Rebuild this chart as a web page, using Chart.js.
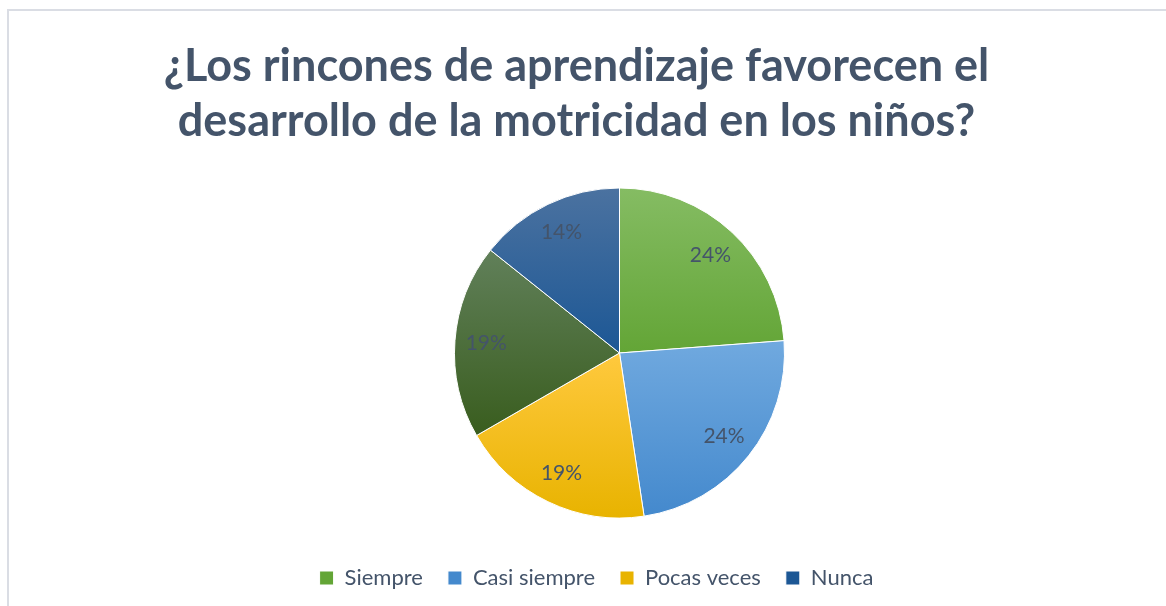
<!DOCTYPE html>
<html>
<head>
<meta charset="utf-8">
<script src="https://cdn.jsdelivr.net/npm/chart.js@4.4.1/dist/chart.umd.min.js"></script>
<style>
  html, body { margin: 0; padding: 0; background: #ffffff; }
  #wrap { position: relative; width: 1166px; height: 606px; overflow: hidden; }
  #frame { position: absolute; left: 7px; top: 9px; right: -10px; bottom: -10px;
           border-top: 2px solid #DADDE4; border-left: 2px solid #DADDE4; pointer-events: none; }
  canvas { display: block; }
</style>
</head>
<body>
<div id="wrap">
  <canvas id="c" width="1166" height="606"></canvas>
  <div id="frame"></div>
</div>
<script>
// ---- data ----
const titleLines = ["¿Los rincones de aprendizaje favorecen el", "desarrollo de la motricidad en los niños?"];
const categories = ["Siempre", "Casi siempre", "Pocas veces", "", "Nunca"];
const values = [5, 5, 4, 4, 3];
const lightColors = ["#85BC63", "#70A9DF", "#FFC93E", "#61805A", "#4B72A0"];
const darkColors  = ["#63A536", "#4489CD", "#E8B300", "#395D1E", "#1C5795"];

const textColor = "#44546A";
const FONT = "Lato";

function sliceGradient(ctx) {
  const chart = ctx.chart;
  const i = ctx.dataIndex;
  const area = chart.chartArea;
  if (!area || i === undefined) return darkColors[i || 0];
  const cy = (area.top + area.bottom) / 2;
  const r = 165;
  const total = values.reduce((a, b) => a + b, 0);
  let cum = 0;
  for (let k = 0; k < i; k++) cum += values[k];
  const a0 = -Math.PI / 2 + 2 * Math.PI * cum / total;
  const a1 = a0 + 2 * Math.PI * values[i] / total;
  const ys = [cy, cy + r * Math.sin(a0), cy + r * Math.sin(a1)];
  const has = (ang) => {
    for (let t = ang; t <= a1 + 1e-9; t += 2 * Math.PI) if (t >= a0 - 1e-9) return true;
    return false;
  };
  if (has(Math.PI / 2) ) ys.push(cy + r);
  if (has(-Math.PI / 2) || has(3 * Math.PI / 2)) ys.push(cy - r);
  const y0 = Math.min(...ys), y1 = Math.max(...ys);
  const g = chart.ctx.createLinearGradient(0, y0, 0, y1 + 0.01);
  g.addColorStop(0, lightColors[i]);
  g.addColorStop(1, darkColors[i]);
  return g;
}

const shiftPlugin = {
  id: 'shift',
  afterLayout(chart) {
    const dx = 43;
    chart.chartArea.left += dx;
    chart.chartArea.right += dx;
    const lg = chart.legend;
    if (lg) { lg.left += 20; lg.right += 20; }
  }
};

const labelPlugin = {
  id: 'pctLabels',
  afterDatasetsDraw(chart) {
    const ctx = chart.ctx;
    const meta = chart.getDatasetMeta(0);
    const total = values.reduce((a, b) => a + b, 0);
    ctx.save();
    ctx.font = "21px " + FONT;
    ctx.fillStyle = textColor;
    ctx.textAlign = "center";
    ctx.textBaseline = "middle";
    meta.data.forEach((arc, i) => {
      const p = arc.getProps(['x', 'y', 'startAngle', 'endAngle', 'outerRadius'], true);
      const mid = (p.startAngle + p.endAngle) / 2;
      const rr = p.outerRadius * 0.81;
      const txt = Math.round(values[i] / total * 100) + "%";
      ctx.fillText(txt, p.x + Math.cos(mid) * rr, p.y + Math.sin(mid) * rr);
    });
    ctx.restore();
  }
};

new Chart(document.getElementById('c'), {
  type: 'pie',
  data: {
    labels: categories,
    datasets: [{
      data: values,
      backgroundColor: sliceGradient,
      borderColor: "#ffffff",
      borderWidth: 1,
      radius: 165
    }]
  },
  options: {
    responsive: false,
    animation: false,
    layout: { padding: { left: 0, right: 13, top: 0, bottom: 7 } },
    plugins: {
      tooltip: { enabled: false },
      title: {
        display: true,
        text: titleLines,
        color: textColor,
        font: { family: FONT, size: 45, weight: 'bold', lineHeight: 1.2222 },
        padding: { top: 39, bottom: 15 }
      },
      legend: {
        position: 'bottom',
        labels: {
          color: textColor,
          font: { family: FONT, size: 22 },
          boxWidth: 14,
          boxHeight: 14,
          padding: 25,
          filter: (item) => item.text !== ""
        }
      }
    }
  },
  plugins: [shiftPlugin, labelPlugin]
});
</script>
</body>
</html>
